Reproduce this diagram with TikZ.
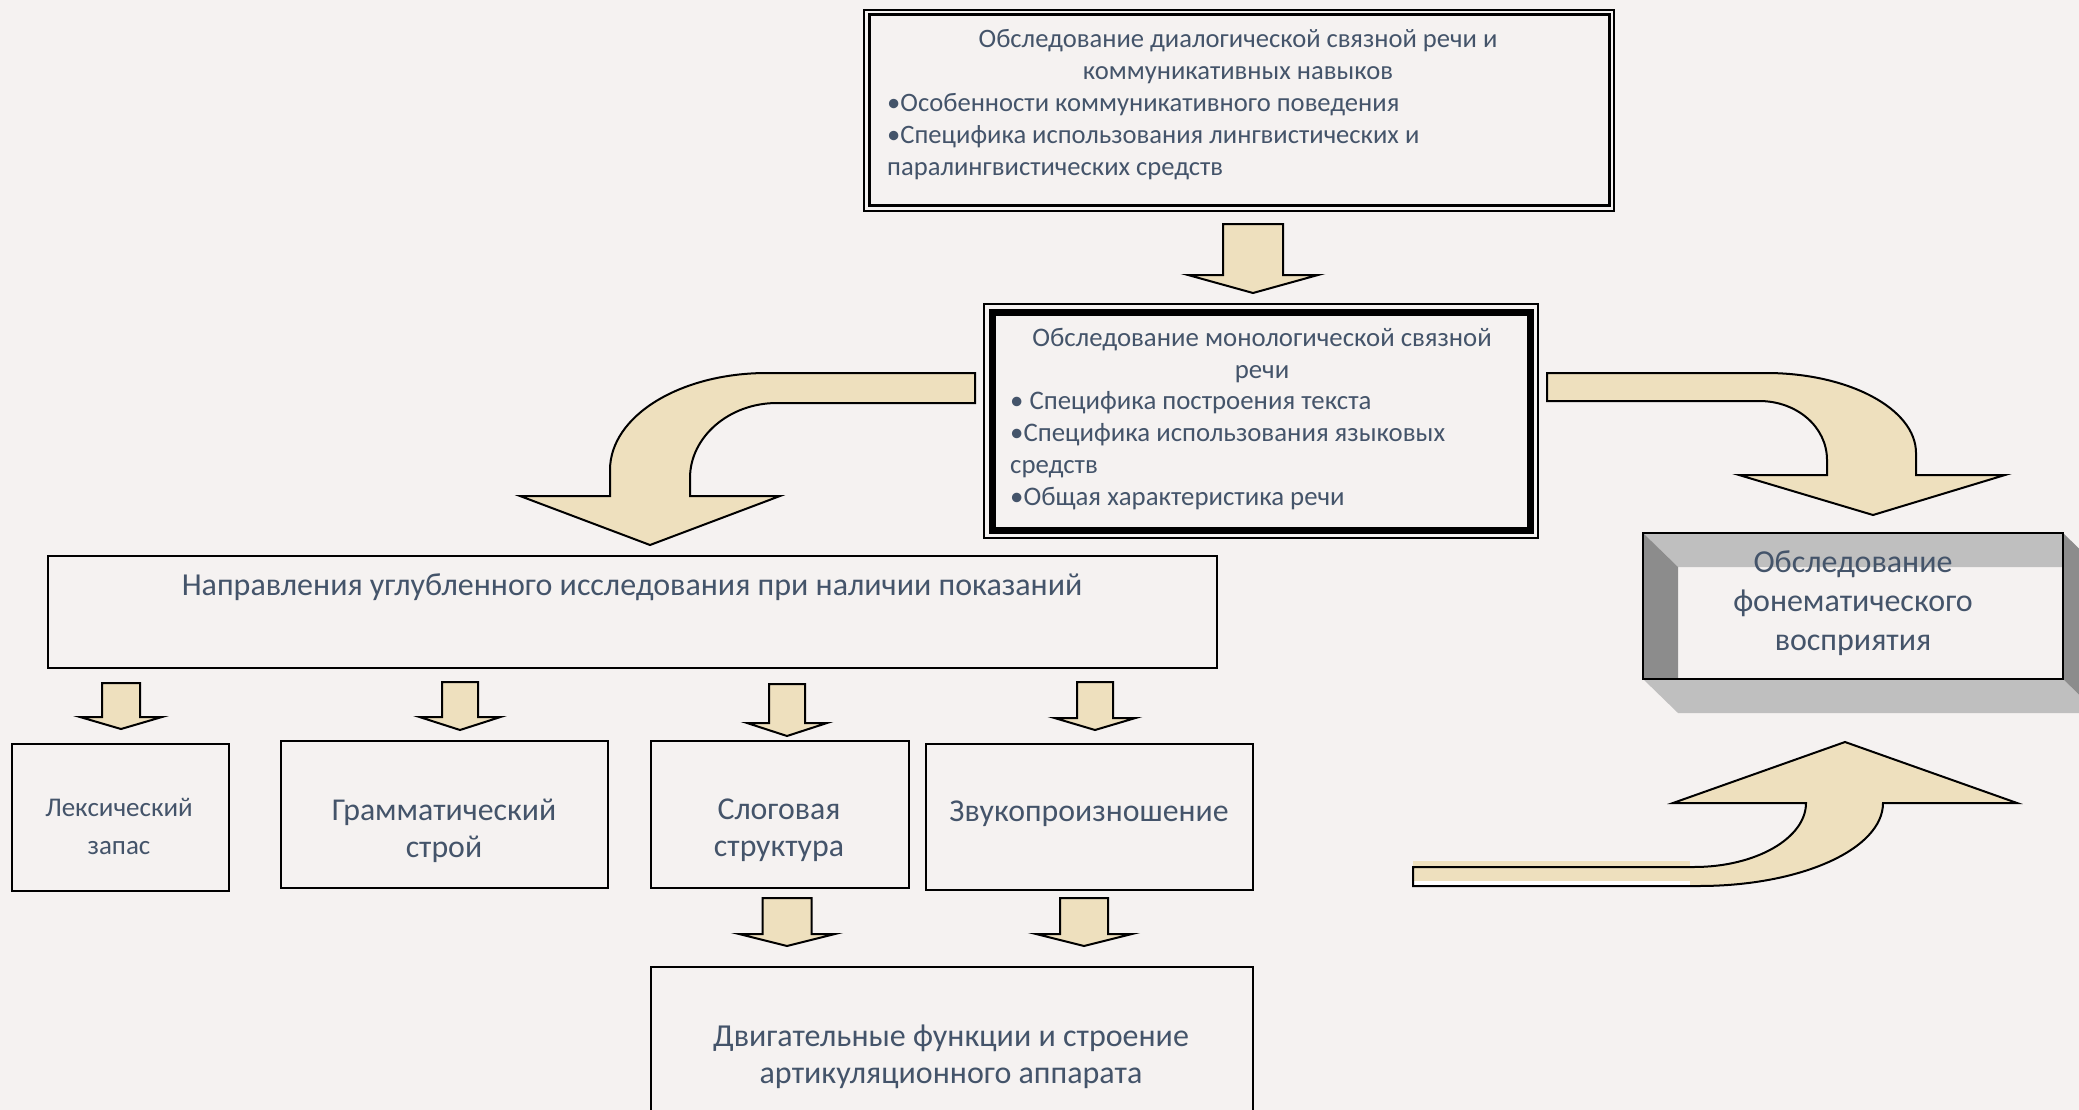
\documentclass[tikz,border=0pt]{standalone}
\usepackage{fontspec}
\setmainfont{Carlito}
\definecolor{bg}{RGB}{245,242,241}
\definecolor{txtc}{RGB}{68,84,106}
\definecolor{parch}{RGB}{238,224,190}
\definecolor{lgray}{RGB}{191,191,191}
\definecolor{dgray}{RGB}{140,140,140}
\newcommand{\blkdown}[6]{\filldraw[blkarrow] ({#1-#2},#4) -- ({#1+#2},#4) -- ({#1+#2},#5) -- ({#1+#3},#5) -- (#1,#6) -- ({#1-#3},#5) -- ({#1-#2},#5) -- cycle;}
\begin{document}
\begin{tikzpicture}[x=1pt,y=-1pt,
  box/.style={draw=black,line width=2pt,inner sep=0pt,outer sep=0pt},
  blkarrow/.style={fill=parch,draw=black,line width=2pt,line join=miter},
  lbl/.style={text=txtc,inner sep=0pt}]
\fill[bg] (0,0) rectangle (2079,1110);
\useasboundingbox (0,0) rectangle (2079,1110);

% top box (double frame)
\node[box,line width=1.5pt,minimum width=750pt,minimum height=201pt] (top) at (1239,110.5) {};
\node[box,line width=3pt,minimum width=740pt,minimum height=191pt] (topin) at (top.center) {};
\node[lbl,align=center,font=\fontsize{26.6}{32}\selectfont] (toptitle) at (1238,57) {Обследование диалогической связной речи и\\коммуникативных навыков};
\node[lbl,align=left,anchor=west,font=\fontsize{26.6}{32}\selectfont] (toplist) at (887,137) {•Особенности коммуникативного поведения\\•Специфика использования лингвистических и\\паралингвистических средств};

% arrow top -> middle
\blkdown{1253}{30}{65}{224}{275}{293}

% middle box (thick frame)
\node[box,line width=1.5pt,minimum width=554pt,minimum height=234pt] (mid) at (1261,421) {};
\node[box,line width=7pt,minimum width=538pt,minimum height=218pt] (midin) at (mid.center) {};
\node[lbl,align=center,font=\fontsize{26.8}{32}\selectfont] (midtitle) at (1262,355.5) {Обследование монологической связной\\речи};
\node[lbl,align=left,anchor=west,font=\fontsize{26.8}{32}\selectfont] (midlist) at (1010,450.5) {• Специфика построения текста\\•Специфика использования языковых\\средств\\•Общая характеристика речи};

% curved arrow left
\filldraw[blkarrow] (975,373) -- (767,373) .. controls (680,373) and (610,416) .. (610,470) -- (610,496) -- (520,496) -- (650,545) -- (780,496) -- (690,496) -- (690,478) .. controls (690,437) and (729,403) .. (777,403) -- (975,403) -- cycle;

% curved arrow right
\filldraw[blkarrow] (1547,373) -- (1766,373) .. controls (1849,373) and (1916,409) .. (1916,453) -- (1916,475) -- (2005,475) -- (1873,515) -- (1739,475) -- (1827,475) -- (1827,460) .. controls (1827,427) and (1797,401) .. (1759,401) -- (1547,401) -- cycle;

% phonematic box with bevel
\fill[lgray] (1643,679) -- (2063,679) -- (2098,713) -- (1678,713) -- cycle;
\fill[dgray] (2063,533) -- (2098,567) -- (2098,713) -- (2063,679) -- cycle;
\node[box,fill=bg,line width=2.5pt,minimum width=420pt,minimum height=146pt] (phon) at (1853,606) {};
\fill[lgray] (1643,533) -- (2063,533) -- (2063,567) -- (1678,567) -- cycle;
\fill[dgray] (1643,533) -- (1678,567) -- (1678,679) -- (1643,679) -- cycle;
\draw[line width=2.5pt] (phon.north west) rectangle (phon.south east);
\node[lbl,align=center,font=\fontsize{32}{39}\selectfont] (phontxt) at (1853,603.5) {Обследование\\фонематического\\восприятия};

% curved arrow bottom right (up), with slightly misregistered fill
\fill[parch] (1413,867) -- (1694,867) .. controls (1756,867) and (1806,838) .. (1806,803) -- (1673,803) -- (1845,742) -- (2017,803) -- (1883,803) .. controls (1883,849) and (1801,886) .. (1699,886) -- (1413,886) -- cycle;
\fill[parch] (1413,861) rectangle (1690,867);
\fill[white] (1413,881) rectangle (1690,886);
\draw[blkarrow,fill=none] (1413,867) -- (1694,867) .. controls (1756,867) and (1806,838) .. (1806,803) -- (1673,803) -- (1845,742) -- (2017,803) -- (1883,803) .. controls (1883,849) and (1801,886) .. (1699,886) -- (1413,886) -- cycle;

% directions box
\node[box,minimum width=1169pt,minimum height=112pt] (dir) at (632.5,612) {};
\node[lbl,font=\fontsize{32}{38}\selectfont] (dirtxt) at (632,587) {Направления углубленного исследования при наличии показаний};

% small arrows
\blkdown{121}{19}{41}{683}{717}{729}
\blkdown{460}{18}{40.5}{682}{717}{730}
\blkdown{787}{18}{40}{684}{723}{736}
\blkdown{1095}{18}{40.5}{682}{718}{730}

% lower boxes
\node[box,minimum width=217pt,minimum height=147pt] (lex) at (120.5,817.5) {};
\node[lbl,align=center,font=\fontsize{27}{38}\selectfont] (lextxt) at (119,826.5) {Лексический\\запас};
\node[box,minimum width=327pt,minimum height=147pt] (gram) at (444.5,814.5) {};
\node[lbl,align=center,font=\fontsize{31.8}{37}\selectfont] (gramtxt) at (444,830.5) {Грамматический\\строй};
\node[box,minimum width=258pt,minimum height=147pt] (syl) at (780,814.5) {};
\node[lbl,align=center,font=\fontsize{31.8}{37}\selectfont] (syltxt) at (779,830.5) {Слоговая\\структура};
\node[box,minimum width=327pt,minimum height=146pt] (snd) at (1089.5,817) {};
\node[lbl,font=\fontsize{31.8}{36}\selectfont] (sndtxt) at (1089,814) {Звукопроизношение};

\blkdown{787}{24.5}{48}{898}{934}{946}
\blkdown{1084}{24}{48}{898}{934}{946}

% bottom box
\node[box,minimum width=602pt,minimum height=163pt] (mot) at (952,1048.5) {};
\node[lbl,align=center,font=\fontsize{32}{37}\selectfont] (mottxt) at (951,1057) {Двигательные функции и строение\\артикуляционного аппарата};
\end{tikzpicture}
\end{document}
